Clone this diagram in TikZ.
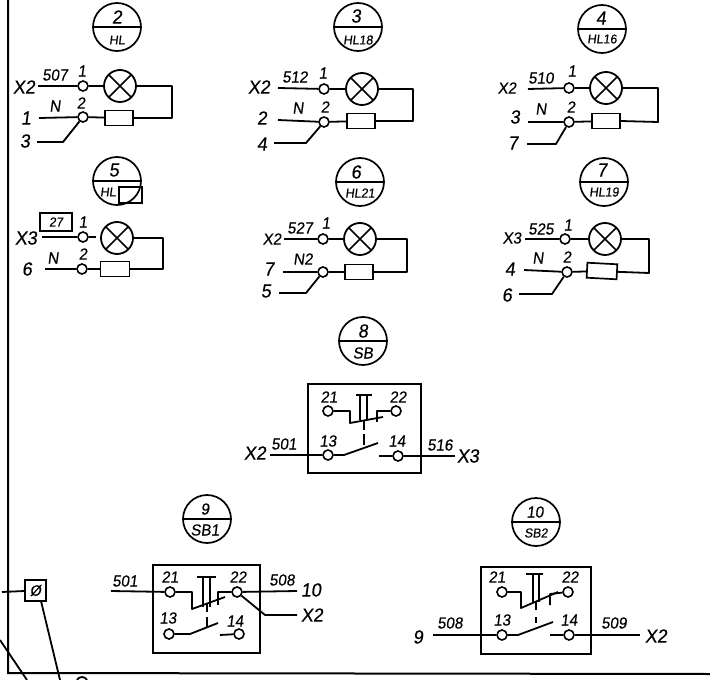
\documentclass[tikz,border=0pt]{standalone}
\usepackage{fontspec}
\setmainfont{Liberation Sans}[FakeBold=0.35, FakeSlant=0.13, FakeStretch=0.95]
\usepackage{tikz}

\begin{document}
\begin{tikzpicture}[
    x=1pt, y=-1pt,
    wire/.style={line width=1.8pt, line join=round},
    thin wire/.style={line width=1.4pt, line join=round},
    badge/.style={circle, draw, line width=1.7pt, minimum size=48pt, inner sep=0pt},
    terminal/.style={circle, draw, line width=1.6pt, fill=white, minimum size=10pt, inner sep=0pt},
    lamp/.style={circle, draw, line width=1.8pt, minimum size=32pt, inner sep=0pt,
        path picture={\draw[line width=1.6pt] (path picture bounding box.south west) -- (path picture bounding box.north east)
            (path picture bounding box.north west) -- (path picture bounding box.south east);}},
    resistor/.style={rectangle, draw, line width=1.7pt, minimum width=28pt, minimum height=15pt, inner sep=0pt},
    switchbox/.style={rectangle, draw, line width=1.7pt, inner sep=0pt},
    num/.style={font=\fontsize{16}{16}\selectfont, inner sep=0pt},
    big/.style={font=\fontsize{19}{19}\selectfont, inner sep=0pt},
    small/.style={font=\fontsize{13}{13}\selectfont, inner sep=0pt}
]
    \useasboundingbox (0,0) rectangle (710,680);

    \coordinate (frametop) at (8,0);
    \coordinate (framecorner) at (8,673);
    \coordinate (frameend) at (710,674);
    \draw[line width=2pt] (frametop) -- (framecorner) -- (frameend);

    % 2 / HL
    \node[badge] (b2) at (117,27) {};
    \draw[wire] (b2.west) -- (b2.east);
    \node[big] (b2top) at (117,17) {2};
    \node[small] (b2bot) at (117,40) {HL};
    \node[terminal] (t2a) at (83,86) {};
    \node[terminal] (t2b) at (83,117) {};
    \node[lamp] (lamp2) at (120,86) {};
    \node[resistor] (res2) at (119,118) {};
    \coordinate (in2a) at (38,86);
    \coordinate (in2b) at (39,118);
    \coordinate (out2) at (37,142);
    \coordinate (knee2) at (63,142);
    \coordinate (ret2) at (172,118);
    \draw[wire] (in2a) -- (t2a);
    \draw[wire] (t2a) -- (lamp2);
    \draw[wire] (in2b) -- (t2b);
    \draw[wire] (t2b) -- (res2);
    \draw[wire] (out2) -- (knee2) -- (t2b);
    \draw[wire] (lamp2.east) -| (ret2) -- (res2.east);
    \node[big] (x2a) at (24,87) {X2};
    \node[num] (w507) at (55,75) {507};
    \node[num] (p2a) at (82,71) {1};
    \node[num] (n2) at (55,106) {N};
    \node[num] (p2b) at (81,103) {2};
    \node[big] (s2a) at (26,118) {1};
    \node[big] (s2b) at (25,141) {3};

    % 3 / HL18
    \node[badge] (b3) at (358,27) {};
    \draw[wire] (b3.west) -- (b3.east);
    \node[big] (b3top) at (356,16) {3};
    \node[small] (b3bot) at (358,40) {HL18};
    \node[terminal] (t3a) at (324,89) {};
    \node[terminal] (t3b) at (324,122) {};
    \node[lamp] (lamp3) at (362,89) {};
    \node[resistor] (res3) at (361,121) {};
    \coordinate (in3a) at (278,88);
    \coordinate (in3b) at (278,120);
    \coordinate (out3) at (274,143);
    \coordinate (knee3) at (306,143);
    \coordinate (ret3) at (413,121);
    \draw[wire] (in3a) -- (t3a);
    \draw[wire] (t3a) -- (lamp3);
    \draw[wire] (in3b) -- (t3b);
    \draw[wire] (t3b) -- (res3);
    \draw[wire] (out3) -- (knee3) -- (t3b);
    \draw[wire] (lamp3.east) -| (ret3) -- (res3.east);
    \node[big] (x3a) at (259,87) {X2};
    \node[num] (w512) at (295,77) {512};
    \node[num] (p3a) at (323,73) {1};
    \node[num] (n3) at (298,108) {N};
    \node[num] (p3b) at (325,107) {2};
    \node[big] (s3a) at (262,118) {2};
    \node[big] (s3b) at (262,144) {4};

    % 4 / HL16
    \node[badge] (b4) at (602,29) {};
    \draw[wire] (b4.west) -- (b4.east);
    \node[big] (b4top) at (601,18) {4};
    \node[small] (b4bot) at (602,39) {HL16};
    \node[terminal] (t4a) at (569,88) {};
    \node[terminal] (t4b) at (569,122) {};
    \node[lamp] (lamp4) at (606,88) {};
    \node[resistor] (res4) at (606,121) {};
    \coordinate (in4a) at (528,89);
    \coordinate (in4b) at (528,122);
    \coordinate (out4) at (527,144);
    \coordinate (knee4) at (556,144);
    \coordinate (ret4) at (658,122);
    \draw[wire] (in4a) -- (t4a);
    \draw[wire] (t4a) -- (lamp4);
    \draw[wire] (in4b) -- (t4b);
    \draw[wire] (t4b) -- (res4);
    \draw[wire] (out4) -- (knee4) -- (t4b);
    \draw[wire] (lamp4.east) -| (ret4) -- (res4.east);
    \node[num] (x4a) at (507,88) {X2};
    \node[num] (w510) at (541,78) {510};
    \node[num] (p4a) at (572,71) {1};
    \node[num] (n4) at (541,109) {N};
    \node[num] (p4b) at (571,107) {2};
    \node[big] (s4a) at (515,117) {3};
    \node[big] (s4b) at (513,143) {7};

    % 5 / HL
    \node[badge] (b5) at (117,181) {};
    \draw[wire] (b5.west) -- (b5.east);
    \node[big] (b5top) at (114,170) {5};
    \node[small] (b5bot) at (108,192) {HL};
    \node[rectangle, draw, line width=1.5pt, minimum width=23pt, minimum height=16pt, inner sep=0pt] (b5sq) at (130.5,195) {};
    \node[terminal] (t5a) at (83,237) {};
    \node[terminal] (t5b) at (82,269) {};
    \node[lamp] (lamp5) at (117,238) {};
    \node[resistor, minimum width=29pt] (res5) at (115,269) {};
    \coordinate (in5a) at (42,237);
    \coordinate (in5b) at (45,269);
    \coordinate (gap5) at (96,237);
    \coordinate (ret5) at (163,269);
    \draw[wire] (in5a) -- (t5a);
    \draw[wire] (t5a) -- (gap5);
    \draw[wire] (in5b) -- (t5b);
    \draw[wire] (t5b) -- (res5);
    \draw[wire] (lamp5.east) -| (ret5) -- (res5.east);
    \node[rectangle, draw, line width=1.5pt, minimum width=32pt, minimum height=18pt, inner sep=0pt, font=\fontsize{13}{13}\selectfont] (tag27) at (56,222) {27};
    \node[big] (x5a) at (26,238) {X3};
    \node[num] (p5a) at (83,222) {1};
    \node[num] (n5) at (53,258) {N};
    \node[num] (p5b) at (83,254) {2};
    \node[big] (s5a) at (27,269) {6};

    % 6 / HL21
    \node[badge] (b6) at (360,182) {};
    \draw[wire] (b6.west) -- (b6.east);
    \node[big] (b6top) at (356,172) {6};
    \node[small] (b6bot) at (360,193) {HL21};
    \node[terminal] (t6a) at (323,239) {};
    \node[terminal] (t6b) at (323,272) {};
    \node[lamp] (lamp6) at (360,239) {};
    \node[resistor] (res6) at (359,272) {};
    \coordinate (in6a) at (284,239);
    \coordinate (in6b) at (283,272);
    \coordinate (out6) at (279,293);
    \coordinate (knee6) at (306,293);
    \coordinate (ret6) at (407,272);
    \draw[wire] (in6a) -- (t6a);
    \draw[wire] (t6a) -- (lamp6);
    \draw[wire] (in6b) -- (t6b);
    \draw[wire] (t6b) -- (res6);
    \draw[wire] (out6) -- (knee6) -- (t6b);
    \draw[wire] (lamp6.east) -| (ret6) -- (res6.east);
    \node[num] (x6a) at (272,239) {X2};
    \node[num] (w527) at (300,228) {527};
    \node[num] (p6a) at (326,223) {1};
    \node[num] (n6) at (303,259) {N2};
    \node[big] (s6a) at (269,269) {7};
    \node[big] (s6b) at (266,291) {5};

    % 7 / HL19
    \node[badge] (b7) at (604,182) {};
    \draw[wire] (b7.west) -- (b7.east);
    \node[big] (b7top) at (602,170) {7};
    \node[small] (b7bot) at (604,192) {HL19};
    \node[terminal] (t7a) at (565,239) {};
    \node[terminal] (t7b) at (567,272) {};
    \node[lamp] (lamp7) at (605,239) {};
    \node[resistor, minimum width=30pt, rotate=-3] (res7) at (602,271) {};
    \coordinate (in7a) at (525,239);
    \coordinate (in7b) at (524,270);
    \coordinate (out7) at (519,294);
    \coordinate (knee7) at (552,294);
    \coordinate (ret7) at (649,273);
    \draw[wire] (in7a) -- (t7a);
    \draw[wire] (t7a) -- (lamp7);
    \draw[wire] (in7b) -- (t7b);
    \draw[wire] (t7b) -- (res7);
    \draw[wire] (out7) -- (knee7) -- (t7b);
    \draw[wire] (lamp7.east) -| (ret7) -- (res7.east);
    \node[num] (x7a) at (512,238) {X3};
    \node[num] (w525) at (541,229) {525};
    \node[num] (p7a) at (568,225) {1};
    \node[num] (n7) at (538,258) {N};
    \node[num] (p7b) at (567,257) {2};
    \node[big] (s7a) at (510,269) {4};
    \node[big] (s7b) at (507,295) {6};

    % 8 / SB
    \node[badge] (b8) at (363,341) {};
    \draw[wire] (b8.west) -- (b8.east);
    \node[big] (b8top) at (363,331) {8};
    \node[num] (b8bot) at (363,353) {SB};
    \node[switchbox, minimum width=113pt, minimum height=89pt] (sw8) at (364.5,428.5) {};
    \node[terminal] (a21) at (328,411) {};
    \node[terminal] (a22) at (396,411) {};
    \node[terminal] (a13) at (328,455) {};
    \node[terminal] (a14) at (398,456) {};
    \coordinate (ain) at (270,455);
    \coordinate (aout) at (455,456);
    \draw[wire] (ain) -- (a13);
    \draw[wire] (a14) -- (aout);
    \draw[wire] (a21) -- (350,411) -- (350,423) -- (383,417);
    \draw[wire] (a22) -- (377,411) -- (377,422);
    \draw[wire] (a13) -- (344,455) -- (378,443);
    \draw[wire] (379,456) -- (a14);
    \draw[wire] (356,395) -- (372,395);
    \draw[thin wire] (360,395) -- (360,420) (367,395) -- (367,420);
    \draw[wire] (364,420) -- (364,430) (364,434) -- (364,445);
    \node[big] (x8a) at (255,453) {X2};
    \node[num] (w501a) at (284,444) {501};
    \node[num] (p13a) at (328,441) {13};
    \node[num] (p14a) at (397,441) {14};
    \node[num] (w516) at (440,445) {516};
    \node[big] (x8b) at (468,456) {X3};
    \node[num] (p21a) at (329,397) {21};
    \node[num] (p22a) at (398,397) {22};

    % 9 / SB1
    \node[badge] (b9) at (207,519) {};
    \draw[wire] (b9.west) -- (b9.east);
    \node[num] (b9top) at (205,509) {9};
    \node[num] (b9bot) at (205,530) {SB1};
    \node[switchbox, minimum width=107pt, minimum height=88pt] (sw9) at (206.5,609) {};
    \node[terminal] (c21) at (170,592) {};
    \node[terminal] (c22) at (237,592) {};
    \node[terminal] (c13) at (169,634) {};
    \node[terminal] (c14) at (239,634) {};
    \coordinate (cin) at (111,591);
    \coordinate (cout) at (297,591);
    \coordinate (cbend) at (265,615);
    \coordinate (cend) at (297,615);
    \draw[wire] (cin) -- (c21);
    \draw[wire] (c22) -- (cout);
    \draw[wire] (c22) -- (cbend) -- (cend);
    \draw[wire] (c21) -- (192,592) -- (192,609) -- (225,597);
    \draw[wire] (c22) -- (218,592) -- (218,605);
    \draw[wire] (c13) -- (190,634) -- (218,623);
    \draw[wire] (220,635) -- (c14);
    \draw[wire] (197,577) -- (216,577);
    \draw[thin wire] (203,577) -- (203,607) (210,577) -- (210,607);
    \draw[wire] (207,604) -- (207,612) (207,617) -- (207,628);
    \node[num] (w501b) at (125,581) {501};
    \node[num] (p21b) at (170,577) {21};
    \node[num] (p22b) at (238,577) {22};
    \node[num] (w508a) at (282,580) {508};
    \node[big] (s10) at (311,590) {10};
    \node[big] (x9a) at (312,615) {X2};
    \node[num] (p13b) at (168,618) {13};
    \node[num] (p14b) at (235,621) {14};

    % 10 / SB2
    \node[badge] (b10) at (536,522) {};
    \draw[wire] (b10.west) -- (b10.east);
    \node[num] (b10top) at (535,512) {10};
    \node[small] (b10bot) at (536,533) {SB2};
    \node[switchbox, minimum width=110pt, minimum height=87pt] (sw10) at (536,610.5) {};
    \node[terminal] (d21) at (502,592) {};
    \node[terminal] (d22) at (568,592) {};
    \node[terminal] (d13) at (502,635) {};
    \node[terminal] (d14) at (569,635) {};
    \coordinate (din) at (433,635);
    \coordinate (dout) at (640,635);
    \draw[wire] (din) -- (d13);
    \draw[wire] (d14) -- (dout);
    \draw[wire] (d21) -- (521,592) -- (521,608) -- (558,592);
    \draw[wire] (d22) -- (550,594) -- (550,605);
    \draw[wire] (d13) -- (518,635) -- (553,622);
    \draw[wire] (550,635) -- (d14);
    \draw[wire] (526,574) -- (543,574);
    \draw[thin wire] (533,574) -- (533,602) (539,574) -- (539,602);
    \draw[wire] (536,602) -- (536,610) (536,617) -- (536,623);
    \node[big] (s9) at (418,637) {9};
    \node[num] (w508b) at (450,623) {508};
    \node[num] (p13c) at (502,620) {13};
    \node[num] (p14c) at (569,620) {14};
    \node[num] (p21c) at (497,577) {21};
    \node[num] (p22c) at (570,577) {22};
    \node[num] (w509) at (614,623) {509};
    \node[big] (x10a) at (656,636) {X2};

    % bottom left clamp
    \node[rectangle, draw, line width=1.7pt, minimum size=21pt, inner sep=0pt, font=\fontsize{15}{15}\selectfont] (clamp) at (35.5,590.5) {Ø};
    \coordinate (clampin) at (2,592);
    \coordinate (clampout) at (60,680);
    \coordinate (slantin) at (0,640);
    \coordinate (slantout) at (27,680);
    \draw[wire] (clampin) -- (clamp);
    \draw[wire] (41,601) -- (clampout);
    \draw[wire] (slantin) -- (slantout);
    \draw[wire] (77,680) .. controls (79,676) and (85,676) .. (87,680);
\end{tikzpicture}
\end{document}
